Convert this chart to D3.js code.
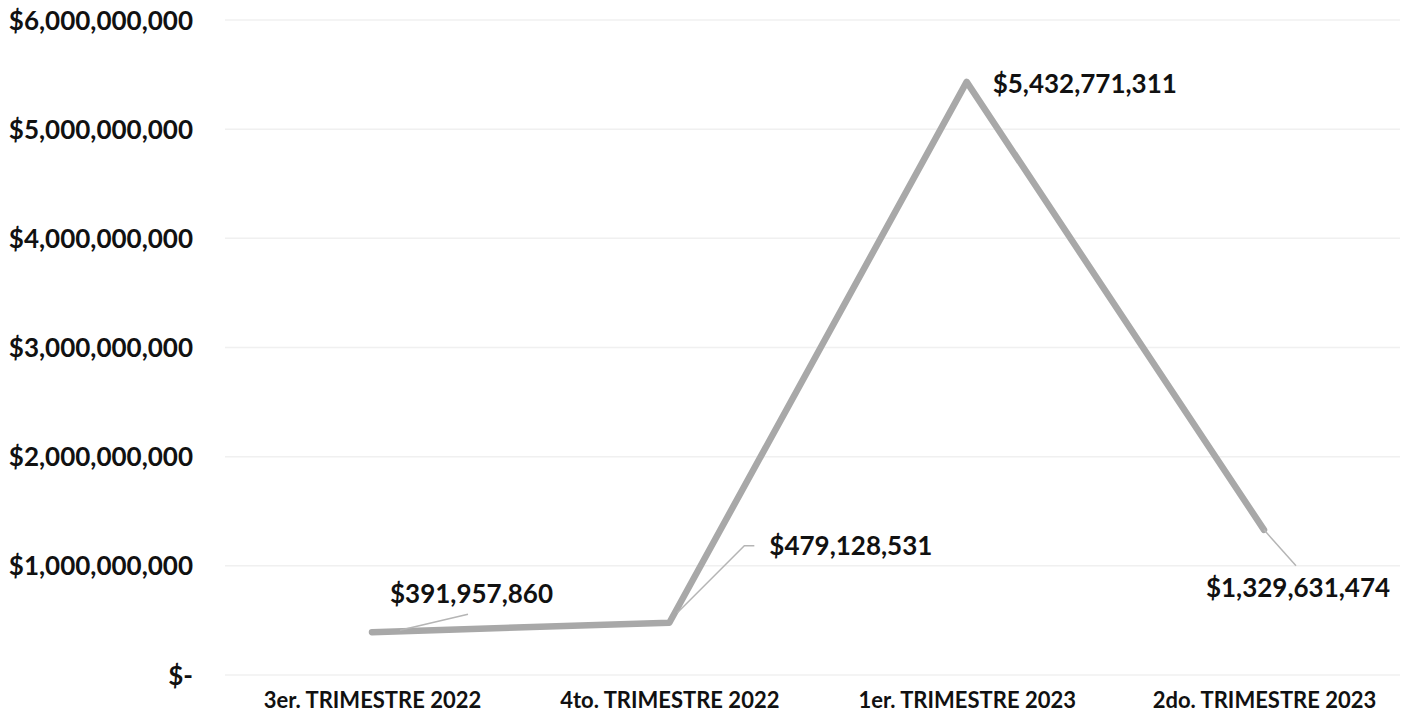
<!DOCTYPE html>
<html><head><meta charset="utf-8">
<script src="https://cdn.jsdelivr.net/npm/d3@7"></script>
<style>body{margin:0;background:#fff}svg{display:block}text{font-family:Lato,"Open Sans",sans-serif;font-weight:700;fill:#111}</style>
</head><body>
<svg id="c" width="1408" height="717"></svg>
<script>
const categories = ["3er. TRIMESTRE 2022","4to. TRIMESTRE 2022","1er. TRIMESTRE 2023","2do. TRIMESTRE 2023"];
const values = [391957860, 479128531, 5432771311, 1329631474];
const yTicks = [0,1e9,2e9,3e9,4e9,5e9,6e9];
const yTickLabels = ["$-","$1,000,000,000","$2,000,000,000","$3,000,000,000","$4,000,000,000","$5,000,000,000","$6,000,000,000"];
const valueLabels = ["$391,957,860","$479,128,531","$5,432,771,311","$1,329,631,474"];

const svg = d3.select("#c");
const x = d3.scalePoint().domain(categories).range([372,1264]);
const y = d3.scaleLinear().domain([0,6e9]).range([675,20]);

// gridlines
svg.append("g").selectAll("line").data(yTicks).join("line")
  .attr("x1",225).attr("x2",1400).attr("y1",d=>y(d)).attr("y2",d=>y(d))
  .attr("stroke","#f0f0f0").attr("stroke-width",1.5);

// y axis labels
const yAxis = d3.axisLeft(y).tickValues(yTicks).tickSize(0).tickPadding(0)
  .tickFormat((d,i)=>yTickLabels[i]);
const ya = svg.append("g").attr("transform","translate(193,0)").call(yAxis);
ya.select(".domain").remove();
ya.selectAll("text").style("font-size","26px").attr("dy","0.35em").attr("fill","#111");

// x axis labels
const xAxis = d3.axisBottom(x).tickSize(0).tickPadding(0);
const xa = svg.append("g").attr("transform","translate(0,700)").call(xAxis);
xa.select(".domain").remove();
xa.selectAll("text").style("font-size","22px").attr("dy","0.35em").attr("y",0).attr("fill","#111");

// line
const line = d3.line().x((d,i)=>x(categories[i])).y(d=>y(d));
svg.append("path").datum(values).attr("d",line).attr("fill","none")
  .attr("stroke","#a8a8a8").attr("stroke-width",6.5).attr("stroke-linejoin","round").attr("stroke-linecap","round");

// data labels with leader lines (offsets relative to the point)
const lbl = [
  {dx:18, dy:-38, anchor:"start", leader:[[28,-2],[96,-18]]},
  {dx:100, dy:-77, anchor:"start", leader:[[8,-10],[75,-77],[85,-77]]},
  {dx:26, dy:2, anchor:"start", leader:null},
  {dx:34, dy:58, anchor:"middle", leader:[[0,0],[32,36]]}
];
const g = svg.append("g");
values.forEach((v,i)=>{
  const px = x(categories[i]), py = y(v), L = lbl[i];
  if (L.leader) g.append("path").attr("d",d3.line()(L.leader.map(p=>[px+p[0],py+p[1]])))
    .attr("fill","none").attr("stroke","#b5b5b5").attr("stroke-width",1.5);
  g.append("text").attr("x",px+L.dx).attr("y",py+L.dy).attr("dy","0.35em")
    .attr("text-anchor",L.anchor).style("font-size","26px").text(valueLabels[i]);
});
</script>
</body></html>
